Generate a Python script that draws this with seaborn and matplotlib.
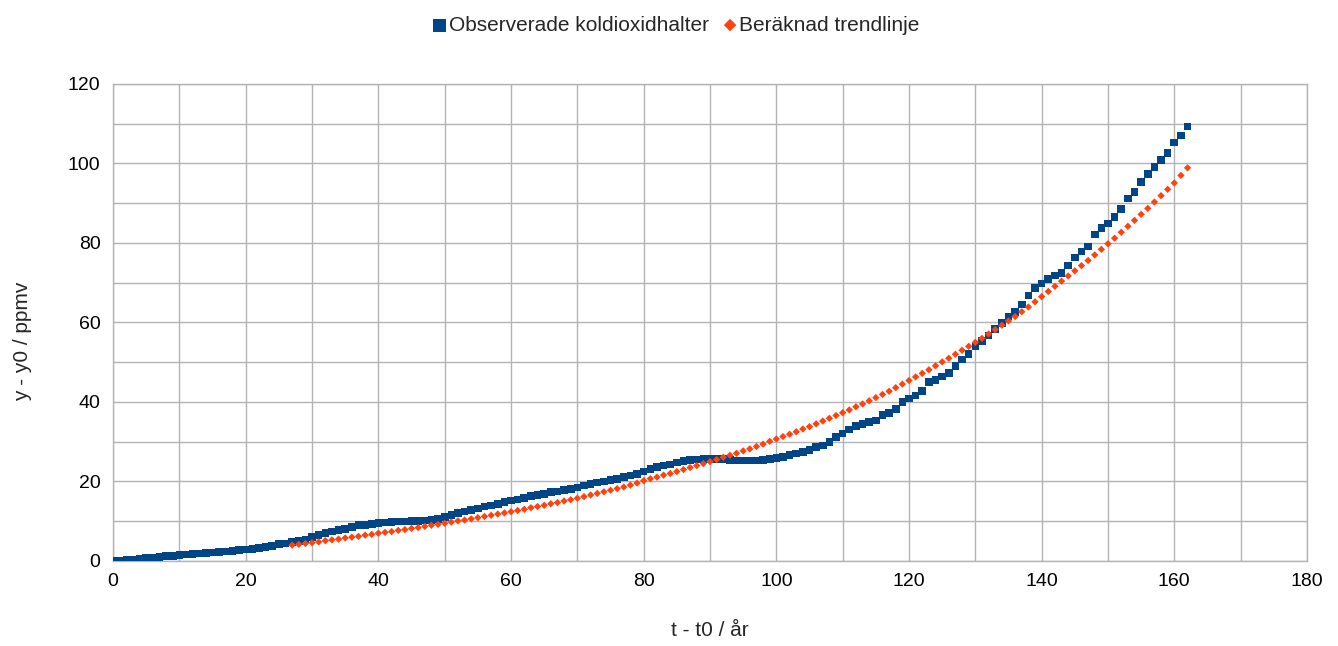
import numpy as np
import pandas as pd
import matplotlib
import matplotlib.pyplot as plt
import seaborn as sns
from matplotlib.ticker import MultipleLocator

matplotlib.use("Agg")
sns.set_theme(style="whitegrid")
plt.rcParams["font.family"] = ["Liberation Sans", "DejaVu Sans"]

# Observerade värden, ett per år (t - t0 = 0..162)
obs_y = [
    0.0, 0.1, 0.3, 0.4, 0.6, 0.7, 0.9, 1.0, 1.2, 1.3,
    1.5, 1.6, 1.7, 1.9, 2.0, 2.1, 2.2, 2.4, 2.5, 2.7,
    2.9, 3.0, 3.2, 3.5, 3.8, 4.2, 4.4, 4.8, 5.1, 5.4,
    6.0, 6.5, 7.0, 7.4, 7.8, 8.1, 8.5, 9.0, 9.1, 9.3,
    9.5, 9.7, 9.8, 9.9, 9.9, 10.0, 10.1, 10.2, 10.3, 10.6,
    11.1, 11.6, 12.0, 12.4, 12.8, 13.2, 13.7, 14.0, 14.4, 14.8,
    15.2, 15.5, 15.9, 16.3, 16.6, 16.9, 17.3, 17.5, 17.9, 18.1,
    18.5, 19.0, 19.4, 19.7, 20.0, 20.4, 20.7, 21.1, 21.5, 21.9,
    22.5, 23.1, 23.6, 24.0, 24.3, 24.8, 25.2, 25.4, 25.5, 25.6,
    25.7, 25.7, 25.7, 25.4, 25.3, 25.3, 25.3, 25.3, 25.4, 25.6,
    25.9, 26.2, 26.6, 27.0, 27.4, 27.9, 28.6, 29.1, 30.0, 31.2,
    32.1, 33.1, 33.9, 34.4, 34.9, 35.3, 36.7, 37.3, 38.2, 40.0,
    40.9, 41.6, 42.8, 45.0, 45.5, 46.4, 47.3, 49.1, 50.7, 52.1,
    54.0, 55.4, 56.7, 58.4, 59.8, 61.5, 62.6, 64.5, 66.8, 68.6,
    69.8, 70.9, 71.8, 72.4, 74.3, 76.3, 77.9, 79.1, 82.1, 83.8,
    84.9, 86.6, 88.6, 91.2, 92.9, 95.3, 97.4, 99.1, 100.9, 102.7,
    105.3, 107.0, 109.3,
]
obs_t = list(range(0, 163))

# Trendlinje, ett värde per år (t - t0 = 27..162)
trend_y = [
    4.0, 4.2, 4.4, 4.6, 4.8, 5.1, 5.3, 5.5, 5.8, 6.0,
    6.2, 6.5, 6.7, 7.0, 7.2, 7.4, 7.7, 7.9, 8.2, 8.4,
    8.7, 9.0, 9.2, 9.5, 9.8, 10.1, 10.3, 10.6, 10.9, 11.2,
    11.5, 11.8, 12.1, 12.4, 12.7, 13.0, 13.4, 13.7, 14.0, 14.4,
    14.7, 15.1, 15.4, 15.8, 16.2, 16.6, 17.0, 17.4, 17.8, 18.2,
    18.6, 19.1, 19.6, 20.2, 20.7, 21.1, 21.6, 22.0, 22.5, 23.0,
    23.5, 24.0, 24.5, 25.0, 25.5, 26.1, 26.6, 27.1, 27.7, 28.2,
    28.8, 29.4, 30.1, 30.7, 31.3, 31.9, 32.5, 33.2, 33.8, 34.5,
    35.2, 35.9, 36.6, 37.3, 38.0, 38.8, 39.5, 40.3, 41.1, 41.9,
    42.7, 43.6, 44.5, 45.4, 46.3, 47.2, 48.1, 49.1, 50.1, 51.0,
    52.0, 53.0, 54.0, 55.0, 56.0, 57.1, 58.2, 59.3, 60.4, 61.5,
    62.7, 63.9, 65.2, 66.5, 67.8, 69.1, 70.4, 71.7, 73.0, 74.3,
    75.6, 77.0, 78.4, 79.8, 81.2, 82.7, 84.2, 85.7, 87.2, 88.7,
    90.3, 91.9, 93.5, 95.1, 97.0, 98.9,
]
trend_t = list(range(27, 163))

BLUE = "#004586"
ORANGE = "#ff420e"

obs = pd.DataFrame({"t": obs_t, "y": obs_y})
trend = pd.DataFrame({"t": trend_t, "y": trend_y})

fig = plt.figure(figsize=(13.38, 6.46), dpi=100)
ax = fig.add_axes([0.0845, 0.1316, 0.8923, 0.7384])

sns.scatterplot(data=obs, x="t", y="y", ax=ax, marker="s", s=30,
                color=BLUE, edgecolor="none", linewidth=0,
                label="Observerade koldioxidhalter", zorder=3)
sns.scatterplot(data=trend, x="t", y="y", ax=ax, marker="D", s=14,
                color=ORANGE, edgecolor="none", linewidth=0,
                label="Beräknad trendlinje", zorder=4)

ax.set_xlim(0, 180)
ax.set_ylim(0, 120)
ax.xaxis.set_major_locator(MultipleLocator(20))
ax.yaxis.set_major_locator(MultipleLocator(20))
ax.xaxis.set_minor_locator(MultipleLocator(10))
ax.yaxis.set_minor_locator(MultipleLocator(10))
ax.grid(which="both", color="#b3b3b3", linewidth=1.0)
ax.set_axisbelow(True)
for sp in ax.spines.values():
    sp.set_color("#b3b3b3")
    sp.set_linewidth(1.0)
ax.tick_params(which="major", length=5, width=1, color="#b3b3b3",
               labelsize=14, pad=4, labelcolor="#000000")
ax.tick_params(which="minor", length=0)

ax.set_xlabel("t - t0 / år", fontsize=15)
ax.set_ylabel("y - y0 / ppmv", fontsize=15)
ax.xaxis.set_label_coords(0.5, -0.125)
ax.yaxis.set_label_coords(-0.068, 0.46)

ax.get_legend().remove()
handles, labels = ax.get_legend_handles_labels()
fig.legend(handles, labels, loc="upper center", bbox_to_anchor=(0.505, 1.005),
           ncol=2, frameon=False, fontsize=15, handletextpad=0.05,
           handlelength=0.8, columnspacing=0.6, markerscale=1.7)

fig.savefig("out.png", dpi=100)
